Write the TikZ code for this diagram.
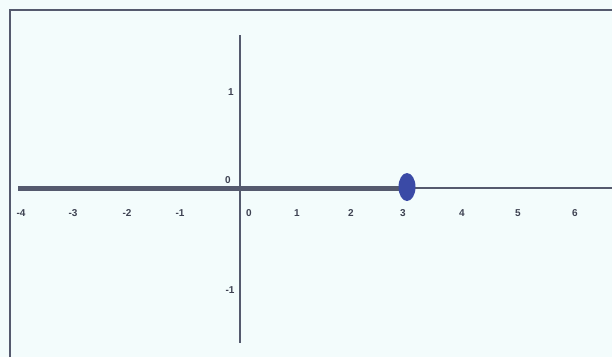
\documentclass[tikz,border=0pt]{standalone}
\usepackage{fontspec}
\setmainfont{Liberation Sans}
\begin{document}
\begin{tikzpicture}[x=1pt,y=-1pt,
  axiscol/.style={draw=axisgray},
  lbl/.style={text=labelgray,font=\fontsize{10}{11}\selectfont\bfseries,inner sep=0pt}]
\definecolor{bg}{HTML}{F3FCFC}
\definecolor{axisgray}{HTML}{555A6E}
\definecolor{labelgray}{HTML}{3E4252}
\definecolor{dotblue}{HTML}{3A4AA6}
\fill[bg] (0,0) rectangle (612,357);
\useasboundingbox (0,0) rectangle (612,357);
% frame
\draw[draw=axisgray,line width=1.6pt] (10,357) -- (10,10) -- (612,10);
% axes
\coordinate (xl) at (18,188);
\coordinate (xm) at (407,188);
\coordinate (xr) at (612,188);
\coordinate (yt) at (240,35);
\coordinate (yb) at (240,343);
\draw[axiscol,line width=1.3pt] (yt) -- (yb);
\draw[axiscol,line width=1.5pt] (xm) -- (xr);
\draw[axiscol,line width=5pt] (xl) -- (xm);
% dot
\fill[dotblue] (407,187) ellipse (8.5 and 14);
% x labels
\node[lbl] (xm4) at (21,213) {-4};
\node[lbl] (xm3) at (73,213) {-3};
\node[lbl] (xm2) at (127,213) {-2};
\node[lbl] (xm1) at (180,213) {-1};
\node[lbl] (x0) at (249,213) {0};
\node[lbl] (x1) at (297,213) {1};
\node[lbl] (x2) at (351,213) {2};
\node[lbl] (x3) at (403,213) {3};
\node[lbl] (x4) at (462,213) {4};
\node[lbl] (x5) at (518,213) {5};
\node[lbl] (x6) at (575,213) {6};
% y labels
\node[lbl] (y1) at (231,92) {1};
\node[lbl] (y0) at (228,180) {0};
\node[lbl] (ym1) at (230,290) {-1};
\end{tikzpicture}
\end{document}
